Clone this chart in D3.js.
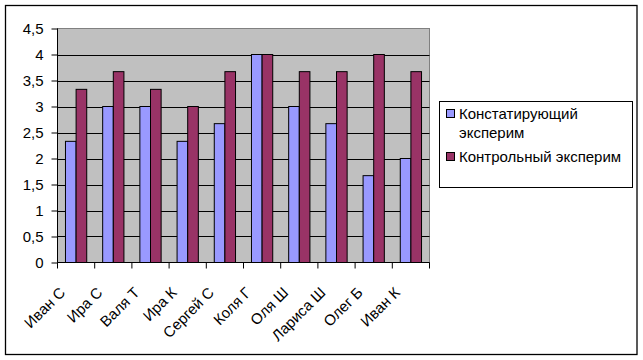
<!DOCTYPE html>
<html><head><meta charset="utf-8">
<script src="https://cdn.jsdelivr.net/npm/d3@7"></script>
<style>body{margin:0;background:#fff;}svg{display:block;font-family:Arial,"Liberation Sans",sans-serif;}</style>
</head><body>
<script>
const categories = ["Иван С","Ира С","Валя Т","Ира К","Сергей С","Коля Г","Оля Ш","Лариса Ш","Олег Б","Иван К"];
const seriesNames = ["Констатирующий эксперим","Контрольный эксперим"];
const constat = [2.33,3,3,2.33,2.67,4,3,2.67,1.67,2];
const control = [3.33,3.67,3.33,3,3.67,4,3.67,3.67,4,3.67];
const yTicks = [0,0.5,1,1.5,2,2.5,3,3.5,4,4.5];
const colors = ["#9999FF","#993366"];

const W=643,H=360;
const svg=d3.select("body").append("svg").attr("width",W).attr("height",H);
svg.append("rect").attr("x",5.5).attr("y",5.5).attr("width",631.5).attr("height",349).attr("fill","#fff").attr("stroke","#000").attr("stroke-width",1.3);

const L=57.5,R=429.5,T=28.5,B=262.5;
const x=d3.scaleBand().domain(categories).range([L,R]).paddingInner(0).paddingOuter(0);
const y=d3.scaleLinear().domain([0,4.5]).range([B,T]);
svg.append("rect").attr("x",L).attr("y",T).attr("width",R-L).attr("height",B-T).attr("fill","#C0C0C0").attr("stroke","#808080").attr("stroke-width",1);
// gridlines
svg.append("g").selectAll("line").data(yTicks.filter(d=>d>0&&d<4.5)).join("line")
  .attr("x1",L).attr("x2",R).attr("y1",d=>Math.round(y(d))+0.5).attr("y2",d=>Math.round(y(d))+0.5)
  .attr("stroke","#000").attr("stroke-width",1);

const data=[constat,control];
const bw=x.bandwidth()/3.5;
data.forEach((vals,si)=>{
  svg.append("g").selectAll("rect").data(categories).join("rect")
    .attr("x",(d,i)=>x(d)+0.75*bw+si*bw)
    .attr("y",(d,i)=>y(vals[i]))
    .attr("width",bw)
    .attr("height",(d,i)=>B-y(vals[i]))
    .attr("fill",colors[si]).attr("stroke","#000").attr("stroke-width",1);
});

// y axis
const ya=svg.append("g").attr("transform",`translate(${L},0)`)
  .call(d3.axisLeft(y).tickValues(yTicks).tickSize(6).tickPadding(8).tickFormat(d=>String(d).replace(".",",")));
ya.select(".domain").attr("stroke","#000").attr("d",`M0,${T}V${B}`);
ya.selectAll("text").attr("font-size","15px").attr("fill","#000").attr("font-family","Arial,'Liberation Sans',sans-serif");
ya.selectAll("line").attr("stroke","#000");
// x axis
const xa=svg.append("g").attr("transform",`translate(0,${B})`)
  .call(d3.axisBottom(x).tickSize(0).tickFormat(""));
xa.select(".domain").attr("stroke","#000").attr("d",`M${L},0H${R}`);
svg.append("g").selectAll("line").data(d3.range(categories.length+1)).join("line")
  .attr("x1",i=>L+i*x.step()).attr("x2",i=>L+i*x.step()).attr("y1",B).attr("y2",B+6).attr("stroke","#000");
svg.append("g").selectAll("text").data(categories).join("text")
  .attr("transform",d=>`translate(${x(d)+x.bandwidth()/2-10},${B+31}) rotate(-45)`)
  .attr("text-anchor","end").attr("font-size","15px").attr("fill","#000").text(d=>d);

// legend
const lg=svg.append("g");
lg.append("rect").attr("x",439.5).attr("y",101.5).attr("width",193).attr("height",86).attr("fill","#fff").attr("stroke","#000");
const legendItems=[{lines:["Констатирующий","эксперим"],c:colors[0],y:119},{lines:["Контрольный эксперим"],c:colors[1],y:162}];
legendItems.forEach(it=>{
  lg.append("rect").attr("x",446.5).attr("y",it.y-9.5).attr("width",8).attr("height",8).attr("fill",it.c).attr("stroke","#000");
  it.lines.forEach((t,j)=>lg.append("text").attr("x",459).attr("y",it.y+j*19).attr("font-size","15px").attr("fill","#000").text(t));
});
</script>
</body></html>
